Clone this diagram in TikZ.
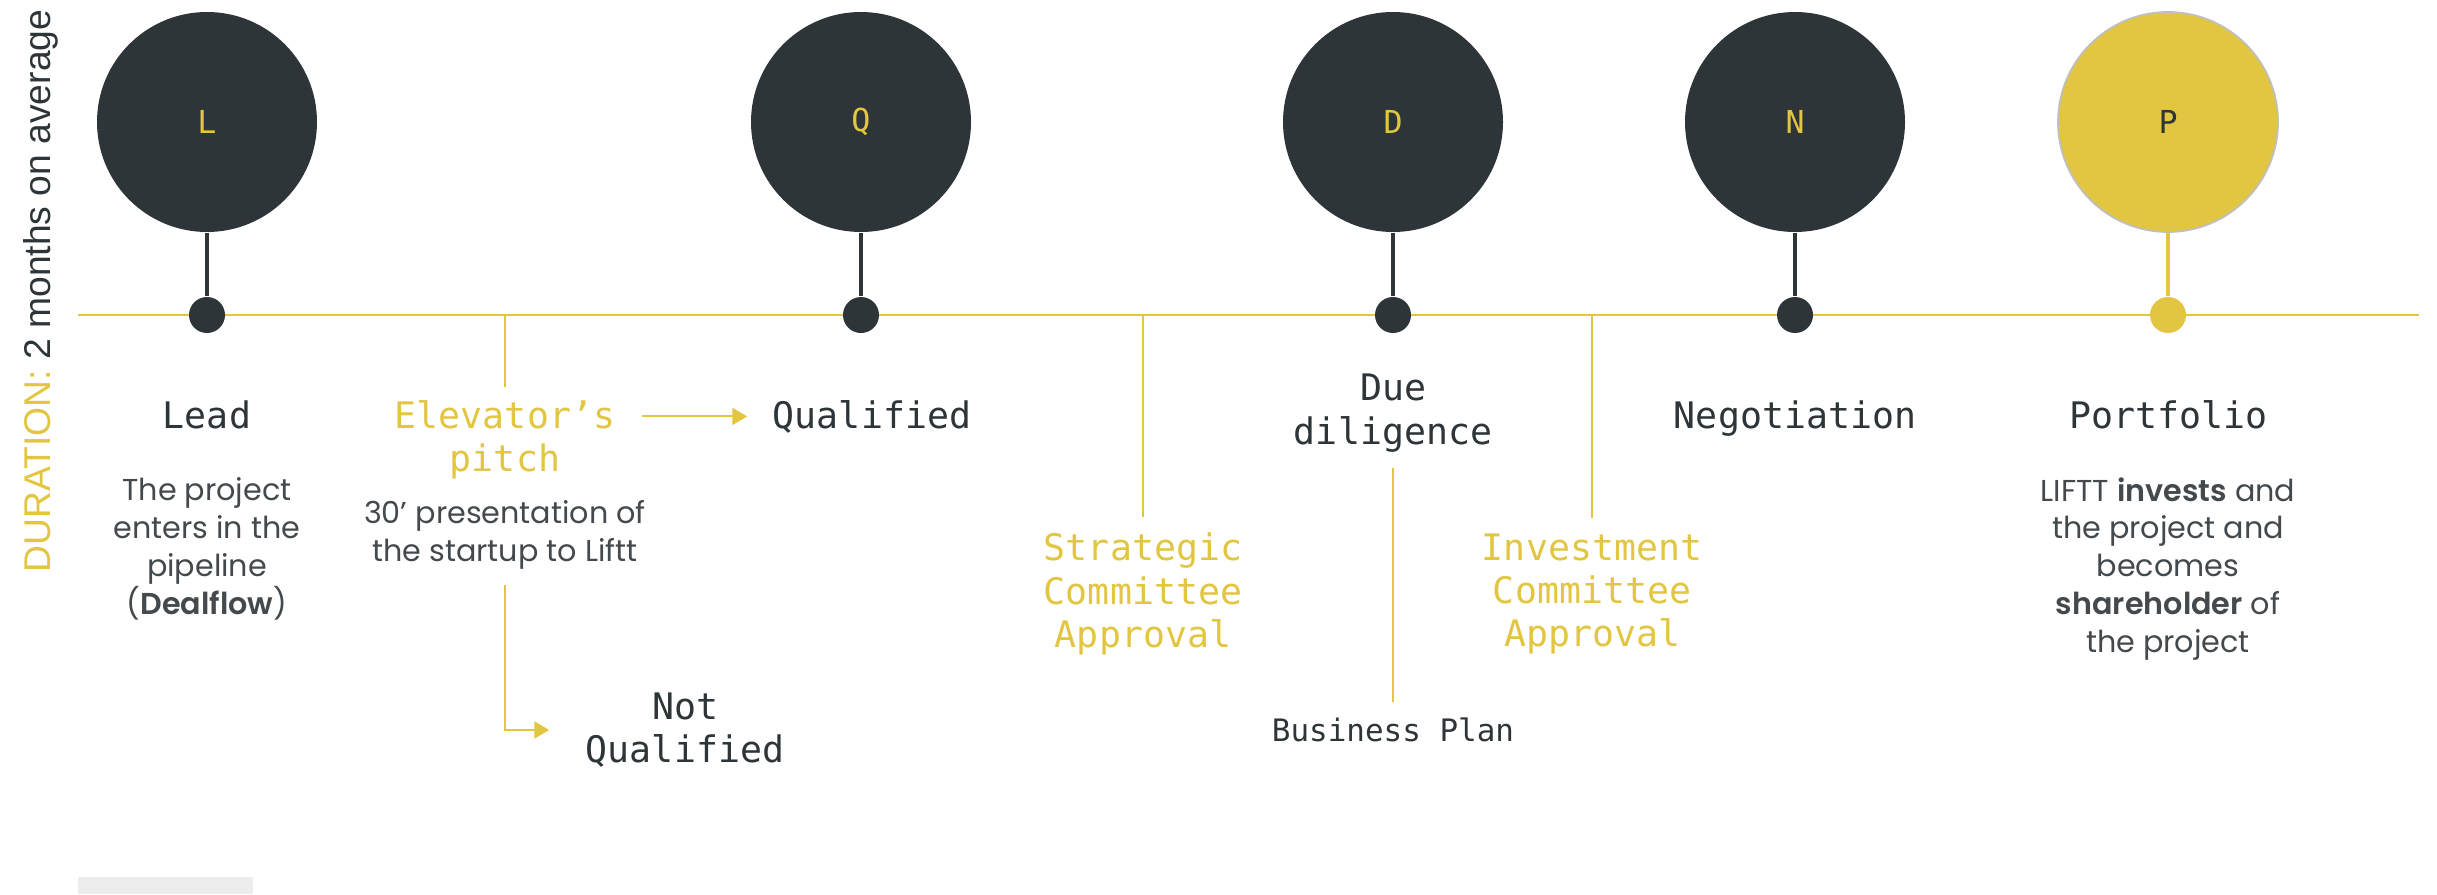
\documentclass[tikz,border=0pt]{standalone}
\usepackage{fontspec}
\setmainfont{Poppins}[BoldFont={Poppins SemiBold}]
\setmonofont{DejaVu Sans Mono}
\newfontfamily\durfont{Liberation Sans}
\usetikzlibrary{arrows.meta}

\definecolor{slate}{HTML}{2E3538}
\definecolor{mustard}{HTML}{E2C641}

\tikzset{
 stage/.style={circle, fill=slate, text=mustard, minimum size=2.2cm, inner sep=0pt, font=\ttfamily\fontsize{9}{11}\selectfont},
 pin/.style={circle, fill=slate, minimum size=0.36cm, inner sep=0pt},
 stem/.style={slate, line width=0.9pt},
 title/.style={inner sep=0pt, align=center, text=slate, font=\ttfamily\fontsize{10.4}{12.3}\selectfont},
 gate/.style={title, text=mustard},
 blurb/.style={inner sep=0pt, align=center, text=slate!90, font=\fontsize{8.6}{10.8}\selectfont},
 tick/.style={mustard, line width=0.6pt},
 arr/.style={tick, -{Triangle[length=0.15cm, width=0.17cm]}},
}

\begin{document}
\begin{tikzpicture}
 \useasboundingbox (0,0) rectangle (24.37,8.94);
 \fill[black!7] (0.78,0) rectangle (2.53,0.17);

 % time line
 \coordinate (start) at (0.78,5.79);
 \coordinate (end) at (24.19,5.79);
 \draw[tick] (start) -- (end);

 \node[stage] (L) at (2.07,7.72) {L};
 \node[pin] (Lpin) at (2.07,5.79) {};
 \draw[stem] (L) -- (Lpin);
 \node[stage] (Q) at (8.61,7.72) {Q};
 \node[pin] (Qpin) at (8.61,5.79) {};
 \draw[stem] (Q) -- (Qpin);
 \node[stage] (D) at (13.93,7.72) {D};
 \node[pin] (Dpin) at (13.93,5.79) {};
 \draw[stem] (D) -- (Dpin);
 \node[stage] (N) at (17.95,7.72) {N};
 \node[pin] (Npin) at (17.95,5.79) {};
 \draw[stem] (N) -- (Npin);
 \node[stage, fill=mustard, draw=black!25, line width=0.5pt, text=slate] (P) at (21.68,7.72) {P};
 \node[pin, fill=mustard] (Ppin) at (21.68,5.79) {};
 \draw[stem, mustard] (P) -- (Ppin);

 \node[title, anchor=base] (lead) at (2.07,4.66) {Lead};
 \node[title, anchor=base] (qual) at (8.72,4.66) {Qualified};
 \node[title] (dd) at (13.93,4.81) {Due\\diligence};
 \node[title, anchor=base] (neg) at (17.95,4.66) {Negotiation};
 \node[title, anchor=base] (port) at (21.68,4.66) {Portfolio};

 \node[blurb] (leadtxt) at (2.07,3.45) {The project\\enters in the\\pipeline\\(\textbf{Dealflow})};
 \node[blurb] (porttxt) at (21.68,3.25) {LIFTT \textbf{invests} and\\the project and\\becomes\\\textbf{shareholder} of\\the project};

 % elevator's pitch
 \coordinate (t1) at (5.05,5.79);
 \node[gate] (pitch) at (5.05,4.54) {Elevator’s\\pitch};
 \node[blurb] (pres) at (5.05,3.59) {30’ presentation of\\the startup to Liftt};
 \node[title] (notq) at (6.85,1.64) {Not\\Qualified};
 \draw[tick, shorten >=0.13cm] (t1) -- (pitch.north);
 \draw[arr, shorten <=0.26cm, shorten >=0.25cm] (pitch.east |- qual.west) -- (qual.west);
 \draw[arr, shorten <=0.15cm, shorten >=0.36cm] (pres.south) |- (notq.west);

 % committees
 \coordinate (t2) at (11.43,5.79);
 \node[gate] (strat) at (11.43,3.00) {Strategic\\Committee\\Approval};
 \draw[tick, shorten >=0.15cm] (t2) -- (strat.north);
 \coordinate (t3) at (15.92,5.79);
 \node[gate] (inv) at (15.92,3.00) {Investment\\Committee\\Approval};
 \draw[tick, shorten >=0.15cm] (t3) -- (inv.north);

 \node[title, font=\ttfamily\fontsize{8.8}{10}\selectfont] (bp) at (13.93,1.64) {Business Plan};
 \draw[tick, shorten <=0.15cm, shorten >=0.15cm] (dd.south) -- (bp.north);

 \node[rotate=90, inner sep=0pt, text=slate, font=\durfont\fontsize{10.6}{12}\selectfont] (dur) at (0.41,6.03) {\textcolor{mustard}{DURATION:} 2 months on average};
\end{tikzpicture}
\end{document}
